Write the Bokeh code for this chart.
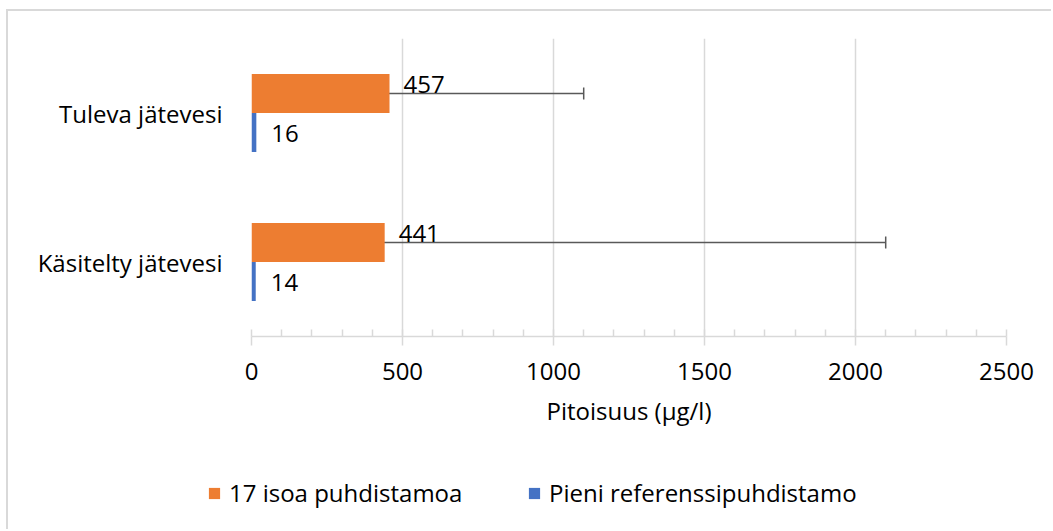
from bokeh.plotting import figure
from bokeh.models import (ColumnDataSource, FactorRange, Range1d, Whisker, TeeHead,
                          LabelSet, Legend, LegendItem, SingleIntervalTicker)
from bokeh.transform import dodge
from bokeh.core.properties import value
from bokeh.embed import file_html
from bokeh.resources import INLINE

categories = ["Käsitelty jätevesi", "Tuleva jätevesi"]   # bottom to top
series_names = ["17 isoa puhdistamoa", "Pieni referenssipuhdistamo"]
large_values = [441, 457]
small_values = [14, 16]
err_lower = [65, 30]
err_upper = [2100, 1100]

ORANGE = "#ED7D31"
BLUE = "#4472C4"
FONT = "Open Sans"
FS = "24px"
GRID = "#d9d9d9"

src = ColumnDataSource(dict(
    cat=categories,
    large=large_values,
    small=small_values,
    lower=err_lower,
    upper=err_upper,
    large_lbl=[str(v) for v in large_values],
    small_lbl=[str(v) for v in small_values],
))

p = figure(width=1045, height=470, output_backend="svg", toolbar_location=None,
           y_range=FactorRange(factors=categories, range_padding=0),
           x_range=Range1d(0, 2500),
           min_border_left=243, min_border_right=47, min_border_top=27, min_border_bottom=145,
           styles={"margin-left": "6px", "margin-top": "9px",
                   "border-left": "2px solid #d9d9d9", "border-top": "2px solid #d9d9d9"})
p.outline_line_color = None
p.background_fill_color = "white"
p.border_fill_color = "white"

BH = 0.262
r1 = p.hbar(y=dodge("cat", BH / 2, range=p.y_range), right="large", left=0, height=BH,
            source=src, fill_color=ORANGE, line_color=None)
r2 = p.hbar(y=dodge("cat", -BH / 2, range=p.y_range), right="small", left=0, height=BH,
            source=src, fill_color=BLUE, line_color=None)

w = Whisker(base=dodge("cat", BH / 2, range=p.y_range), lower="lower", upper="upper",
            dimension="width", source=src, line_color="#595959", line_width=1.5,
            upper_head=TeeHead(size=12, line_color="#595959", line_width=1.5),
            lower_head=TeeHead(size=12, line_color="#595959", line_width=1.5))
p.add_layout(w)

lab1 = LabelSet(x="large", y=dodge("cat", BH / 2, range=p.y_range), text="large_lbl",
                source=src, x_offset=14, y_offset=9, text_baseline="middle",
                text_font=value(FONT), text_font_size=FS, text_color="black")
lab2 = LabelSet(x="small", y=dodge("cat", -BH / 2, range=p.y_range), text="small_lbl",
                source=src, x_offset=15, y_offset=-1, text_baseline="middle",
                text_font=value(FONT), text_font_size=FS, text_color="black")
p.add_layout(lab1)
p.add_layout(lab2)

# x axis
xa = p.xaxis[0]
xa.ticker = SingleIntervalTicker(interval=500, num_minor_ticks=5)
xa.axis_line_color = GRID
xa.axis_line_width = 1.5
xa.major_tick_line_color = GRID
xa.major_tick_line_width = 1.5
xa.major_tick_in = 0
xa.major_tick_out = 9
xa.minor_tick_line_color = GRID
xa.minor_tick_line_width = 1.5
xa.minor_tick_in = 7
xa.minor_tick_out = 0
xa.major_label_text_font = FONT
xa.major_label_text_font_size = FS
xa.major_label_text_color = "black"
xa.major_label_standoff = 17
xa.axis_label = "Pitoisuus (µg/l)"
xa.axis_label_text_font = FONT
xa.axis_label_text_font_size = FS
xa.axis_label_text_font_style = "normal"
xa.axis_label_text_color = "black"
xa.axis_label_standoff = 11

# y axis
ya = p.yaxis[0]
ya.axis_line_color = None
ya.major_tick_line_color = None
ya.minor_tick_line_color = None
ya.major_label_text_font = FONT
ya.major_label_text_font_size = FS
ya.major_label_text_color = "black"
ya.major_label_standoff = 23

p.xgrid.grid_line_color = GRID
p.xgrid.grid_line_width = 1.5
p.ygrid.grid_line_color = None

# legend strip below the chart (separate root, so its frame is not aligned to the chart's)
leg = figure(width=1045, height=50, output_backend="svg", toolbar_location=None,
             x_axis_location=None, y_axis_location=None,
             x_range=Range1d(0, 1), y_range=Range1d(0, 1),
             min_border_left=0, min_border_right=0, min_border_top=0, min_border_bottom=0,
             styles={"margin-left": "6px", "border-left": "2px solid #d9d9d9"})
leg.grid.visible = False
leg.outline_line_color = None
leg.border_fill_alpha = 0
leg.background_fill_alpha = 0
# legend-key renderers share the chart data but are not drawn themselves
lr1 = leg.hbar(y="large", right="large", left=0, height=BH, source=src,
               fill_color=ORANGE, line_color=None, visible=False)
lr2 = leg.hbar(y="small", right="small", left=0, height=BH, source=src,
               fill_color=BLUE, line_color=None, visible=False)

legend_style = dict(orientation="horizontal", glyph_width=14, glyph_height=14,
                    label_standoff=8, padding=0, margin=0, border_line_color=None,
                    background_fill_alpha=0, inactive_fill_alpha=0,
                    label_text_font=FONT, label_text_font_size=FS, label_text_color="black")
legend_a = Legend(items=[LegendItem(label=series_names[0], renderers=[lr1])],
                  location=(199, 20), **legend_style)
legend_b = Legend(items=[LegendItem(label=series_names[1], renderers=[lr2])],
                  location=(519, 20), **legend_style)
leg.add_layout(legend_a, "center")
leg.add_layout(legend_b, "center")

open("out.html", "w").write(file_html([p, leg], INLINE))
